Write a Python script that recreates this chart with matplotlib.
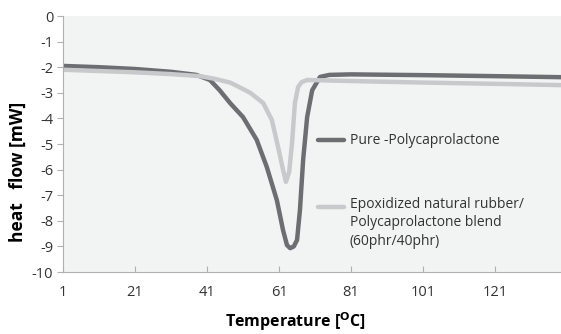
import matplotlib.pyplot as plt

# data
temp_pcl = [1, 11, 21, 31, 38, 41.8, 44.5, 47.4, 51, 54.8, 57.6, 60.4, 62.1, 63.2,
            64.1, 65.1, 66, 66.8, 67.7, 68.8, 70.2, 72.4, 75, 81, 101, 121, 139.3]
flow_pcl = [-1.95, -2.0, -2.07, -2.18, -2.3, -2.5, -2.9, -3.4, -3.95, -4.84, -5.9, -7.2,
            -8.36, -8.95, -9.07, -9.0, -8.75, -7.58, -5.6, -3.95, -2.9, -2.38, -2.3,
            -2.28, -2.31, -2.35, -2.39]

temp_blend = [1, 11, 21, 31, 39, 43, 47.4, 50, 53, 56.6, 59, 60.7, 62.1, 62.9, 63.8,
              64.6, 65.4, 66.3, 67.3, 68.8, 75, 81, 101, 121, 139.3]
flow_blend = [-2.1, -2.15, -2.2, -2.27, -2.35, -2.45, -2.6, -2.78, -3.0, -3.4, -4.06,
              -5.1, -6.0, -6.48, -6.1, -4.97, -3.4, -2.77, -2.58, -2.5, -2.52, -2.54,
              -2.6, -2.65, -2.7]

xticks = [1, 21, 41, 61, 81, 101, 121]
yticks = list(range(-10, 1))

plt.rcParams['font.family'] = ['Open Sans', 'DejaVu Sans']
plt.rcParams['axes.unicode_minus'] = False

W, H = 561, 334
fig = plt.figure(figsize=(W / 100, H / 100), dpi=100)
ax = fig.add_axes([63 / W, 1 - 272 / H, 1 - 63 / W, 256 / H])
ax.set_facecolor('#f2f4f4')

dark = '#6d6e71'
light = '#c8c9cb'
ax.plot(temp_pcl, flow_pcl, color=dark, lw=3.2, solid_capstyle='round')
ax.plot(temp_blend, flow_blend, color=light, lw=3.2, solid_capstyle='round')

ax.set_xlim(1, 139.3)
ax.set_ylim(-10, 0)
ax.set_xticks(xticks)
ax.set_yticks(yticks)
ax.tick_params(axis='x', direction='in', length=4, color='#b0b0b0', pad=9,
               labelsize=10.5, labelcolor='#333333')
ax.tick_params(axis='y', direction='out', length=4, color='#b0b0b0', pad=3,
               labelsize=10.5, labelcolor='#333333')
for s in ['top', 'right']:
    ax.spines[s].set_visible(False)
for s in ['left', 'bottom']:
    ax.spines[s].set_color('#b0b0b0')

ax.set_ylabel('heat   flow [mW]', fontsize=12.5, fontweight='bold')
ax.yaxis.set_label_coords(-(63 - 18) / 498, (272 - 172) / 256)
ax.set_xlabel(r'Temperature [$^{\mathbf{O}}$C]', fontsize=11.5, fontweight='bold')
ax.xaxis.set_label_coords((296 - 63) / 498, -(322 - 272) / 256)
ax.xaxis.label.set_va('center')
ax.yaxis.label.set_va('center')

# in-plot legend (figure pixel positions, measured from the top)
fx = lambda px: px / W
fy = lambda py: 1 - py / H
fig.add_artist(plt.Line2D([fx(318), fx(344)], [fy(140), fy(140)], color=dark, lw=3.2,
                          solid_capstyle='round'))
fig.text(fx(350), fy(140), 'Pure -Polycaprolactone', fontsize=10, color='#333333',
         va='center', ha='left')
fig.add_artist(plt.Line2D([fx(318), fx(344)], [fy(207), fy(207)], color=light, lw=3.2,
                          solid_capstyle='round'))
fig.text(fx(350), fy(197), 'Epoxidized natural rubber/\nPolycaprolactone blend\n(60phr/40phr)',
         fontsize=10, color='#333333', va='top', ha='left', linespacing=1.3)

fig.savefig('out.png', dpi=100)
